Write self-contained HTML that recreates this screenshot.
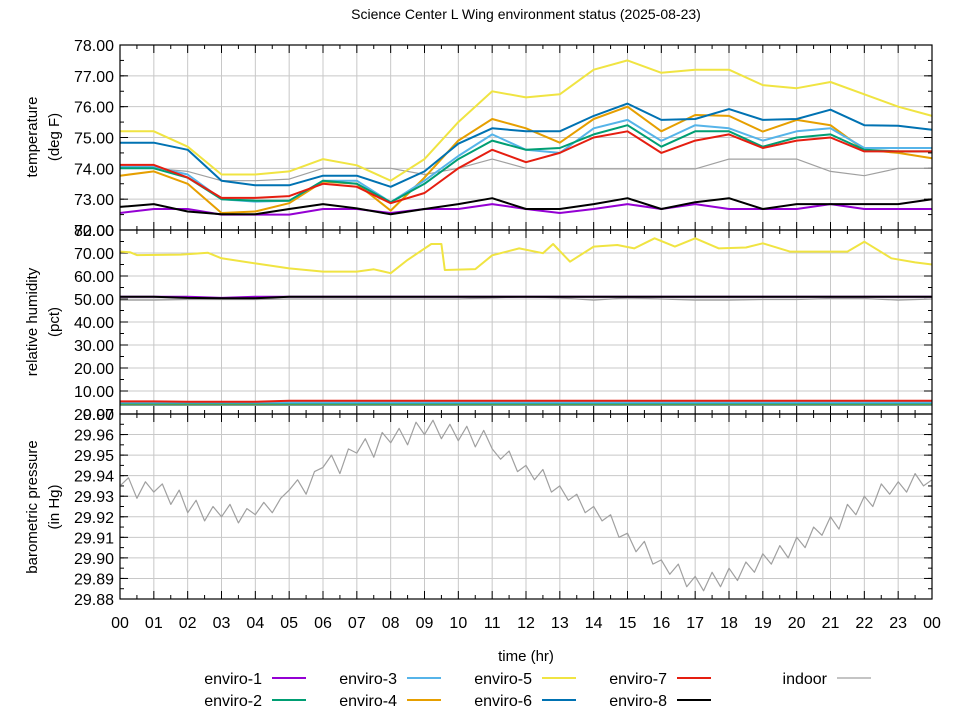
<!DOCTYPE html>
<html><head><meta charset="utf-8"><style>
html,body{margin:0;padding:0;background:#fff;}
svg{display:block;font-family:"Liberation Sans","DejaVu Sans",sans-serif;}
</style></head><body>
<svg id="chart" width="960" height="720" viewBox="0 0 960 720">
<text x="526" y="19" font-size="14" text-anchor="middle" fill="#000">Science Center L Wing environment status (2025-08-23)</text>
<text x="526" y="661" font-size="15" text-anchor="middle">time (hr)</text>
<g font-size="15" text-anchor="middle">
<text transform="translate(37,137) rotate(-90)">temperature</text>
<text transform="translate(59,137) rotate(-90)">(deg F)</text></g>
<g font-size="15" text-anchor="middle">
<text transform="translate(37,322) rotate(-90)">relative humidity</text>
<text transform="translate(59,322) rotate(-90)">(pct)</text></g>
<g font-size="15" text-anchor="middle">
<text transform="translate(37,507) rotate(-90)">barometric pressure</text>
<text transform="translate(59,507) rotate(-90)">(in Hg)</text></g>
<g id="plots"></g>
<g id="legend" font-size="16"></g>
</svg>
<script>
const hours = [0,1,2,3,4,5,6,7,8,9,10,11,12,13,14,15,16,17,18,19,20,21,22,23,24];
const xTickLabels = ["00","01","02","03","04","05","06","07","08","09","10","11","12","13","14","15","16","17","18","19","20","21","22","23","00"];
const seriesNames = ["enviro-1","enviro-2","enviro-3","enviro-4","enviro-5","enviro-6","enviro-7","enviro-8","indoor"];
const seriesColors = ["#9400d3","#009e73","#56b4e9","#e69f00","#f0e442","#0072b2","#e51e10","#000000","#a0a0a0"];
// temperature (deg F), hourly
const temp1 = [72.55,72.68,72.68,72.5,72.5,72.5,72.68,72.68,72.55,72.68,72.68,72.84,72.68,72.55,72.68,72.84,72.68,72.84,72.68,72.68,72.68,72.84,72.68,72.68,72.68];
const temp2 = [74.0,74.0,73.7,73.0,72.95,72.95,73.6,73.5,72.9,73.5,74.3,74.9,74.6,74.66,75.1,75.4,74.7,75.2,75.2,74.7,75.0,75.1,74.6,74.55,74.55];
const temp3 = [74.05,74.05,73.8,73.0,72.92,72.95,73.6,73.6,72.9,73.6,74.4,75.1,74.6,74.5,75.3,75.57,74.89,75.4,75.3,74.9,75.2,75.3,74.66,74.66,74.66];
const temp4 = [73.76,73.9,73.5,72.55,72.6,72.87,73.57,73.5,72.63,73.7,74.9,75.6,75.3,74.83,75.6,76.0,75.2,75.73,75.7,75.19,75.57,75.4,74.6,74.5,74.33];
const temp5 = [75.2,75.2,74.7,73.8,73.8,73.9,74.3,74.1,73.6,74.3,75.5,76.5,76.3,76.4,77.2,77.5,77.1,77.2,77.2,76.7,76.6,76.8,76.4,76.0,75.7];
const temp6 = [74.83,74.83,74.6,73.6,73.45,73.45,73.76,73.76,73.4,73.9,74.8,75.3,75.2,75.2,75.7,76.1,75.57,75.6,75.92,75.57,75.6,75.9,75.4,75.38,75.25];
const temp7 = [74.11,74.11,73.7,73.04,73.04,73.1,73.5,73.4,72.87,73.2,74.0,74.6,74.2,74.5,75.0,75.2,74.5,74.9,75.1,74.66,74.9,75.0,74.55,74.55,74.55];
const temp8 = [72.75,72.84,72.6,72.51,72.51,72.68,72.84,72.7,72.51,72.68,72.84,73.03,72.68,72.68,72.84,73.03,72.68,72.9,73.03,72.68,72.84,72.84,72.84,72.84,73.0];
const tempIndoor = [74.0,74.0,73.9,73.6,73.6,73.65,74.0,74.0,74.0,73.8,74.0,74.3,74.0,73.98,73.98,73.98,73.98,73.98,74.3,74.3,74.3,73.9,73.76,74.0,74.0];
const tempTicks = ["72.00","73.00","74.00","75.00","76.00","77.00","78.00"];
// humidity (pct)
const hum1 = [51,51,51,50.5,51,51,51,51,51,51,51,51,51,51,51,51,51,51,51,51,51,51,51,51,51];
const hum2 = [4.5,4.5,4.5,4.5,4.5,4.5,4.5,4.5,4.5,4.5,4.5,4.5,4.5,4.5,4.5,4.5,4.5,4.5,4.5,4.5,4.5,4.5,4.5,4.5,4.5];
const hum3 = [5,5,5,5,5,5,5,5,5,5,5,5,5,5,5,5,5,5,5,5,5,5,5,5,5];
const hum4 = [4.2,4.2,4.2,4.2,4.2,4.2,4.2,4.2,4.2,4.2,4.2,4.2,4.2,4.2,4.2,4.2,4.2,4.2,4.2,4.2,4.2,4.2,4.2,4.2,4.2];
const hum6 = [4,4,4,4,4,4,4,4,4,4,4,4,4,4,4,4,4,4,4,4,4,4,4,4,4];
const hum7 = [5.5,5.5,5.3,5.3,5.3,5.8,5.8,5.8,5.8,5.8,5.8,5.8,5.8,5.8,5.8,5.8,5.8,5.8,5.8,5.8,5.8,5.8,5.8,5.8,5.8];
const hum8 = [51,51,50.5,50.3,50.3,51,51,51,51,51,51,51,51,51,51,51,51,51,51,51,51,51,51,51,51];
const humIndoor = [49.5,49.5,49.8,49.8,49.8,50,50,50,50,50,50,50.5,51,50.5,49.5,50.5,50,49.5,49.5,49.8,49.8,50.2,50.2,49.5,50];
const hum5Hours = [0,0.3,0.5,1.8,2.6,3,4,5,6,7,7.5,8,8.5,9.2,9.5,9.6,10.5,11,11.8,12.5,12.8,13.3,14,14.7,15.2,15.8,16.4,17,17.7,18.5,19,19.8,21.5,22,22.8,23.5,24];
const hum5 = [70.6,70.3,69.1,69.3,70.1,67.7,65.5,63.3,61.9,61.9,62.9,61.2,67,73.9,73.9,62.6,63,69,72,69.9,73.9,66.2,72.8,73.5,72,76.4,72.8,76.4,72,72.4,74.2,70.6,70.6,74.9,67.7,65.9,65];
const humTicks = ["0.00","10.00","20.00","30.00","40.00","50.00","60.00","70.00","80.00"];
// pressure (in Hg), quarter-hourly
const pressure = [29.935,29.939,29.929,29.937,29.932,29.936,29.926,29.933,29.922,29.928,29.918,29.925,29.920,29.926,29.917,29.924,29.921,29.927,29.922,29.929,29.933,29.938,29.931,29.942,29.944,29.950,29.941,29.953,29.951,29.958,29.949,29.961,29.956,29.963,29.955,29.966,29.960,29.967,29.958,29.965,29.957,29.964,29.954,29.962,29.953,29.948,29.952,29.942,29.945,29.938,29.943,29.932,29.935,29.928,29.931,29.922,29.925,29.918,29.921,29.910,29.912,29.903,29.908,29.897,29.899,29.892,29.897,29.886,29.891,29.884,29.893,29.886,29.895,29.889,29.898,29.893,29.902,29.897,29.906,29.900,29.910,29.905,29.915,29.911,29.920,29.914,29.926,29.921,29.930,29.925,29.936,29.931,29.937,29.932,29.941,29.935,29.938];
const pressTicks = ["29.88","29.89","29.90","29.91","29.92","29.93","29.94","29.95","29.96","29.97"];

const NS="http://www.w3.org/2000/svg";
const plots=document.getElementById('plots');
const X0=120,X1=932;
const xs=h=>X0+(X1-X0)*h/24;
function mk(tag,attrs,parent){const e=document.createElementNS(NS,tag);for(const k in attrs)e.setAttribute(k,attrs[k]);(parent||plots).appendChild(e);return e;}
const panels=[
 {name:'temperature',top:45,bot:230,min:72,max:78,ticks:tempTicks,minor:0.5},
 {name:'humidity',top:230,bot:414,min:0,max:80,ticks:humTicks,minor:5},
 {name:'pressure',top:414,bot:599,min:29.88,max:29.97,ticks:pressTicks,minor:0.005}
];
function ysOf(p){return v=>p.bot-(v-p.min)/(p.max-p.min)*(p.bot-p.top);}
panels.forEach((p,pi)=>{
 const ys=ysOf(p);
 const g=mk('g',{});
 
 
 for(let h=1;h<24;h++){const l=mk('line',{x1:xs(h),x2:xs(h),y1:p.top,y2:p.bot,stroke:'#c8c8c8','stroke-width':1},g);
  }
 p.ticks.forEach(t=>{const v=parseFloat(t);const y=ys(v);
  if(y>p.top+0.5&&y<p.bot-0.5){const l=mk('line',{x1:X0,x2:X1,y1:y,y2:y,stroke:'#c8c8c8','stroke-width':1},g);
   }
  mk('line',{x1:X0,x2:X0+8,y1:y,y2:y,stroke:'#000'},g);mk('line',{x1:X1-8,x2:X1,y1:y,y2:y,stroke:'#000'},g);
  const tx=mk('text',{x:X0-6,y:y+6,'font-size':16,'text-anchor':'end',fill:'#000'},g);tx.textContent=t;
  
 });
 for(let v=p.min+p.minor;v<p.max-1e-9;v+=p.minor){const y=ys(v);
  mk('line',{x1:X0,x2:X0+4,y1:y,y2:y,stroke:'#000'},g);mk('line',{x1:X1-4,x2:X1,y1:y,y2:y,stroke:'#000'},g);}
 for(let h=0;h<=48;h++){const x=xs(h/2);const len=h%2?4:8;
  mk('line',{x1:x,x2:x,y1:p.top,y2:p.top+len,stroke:'#000'},g);mk('line',{x1:x,x2:x,y1:p.bot-len,y2:p.bot,stroke:'#000'},g);}
});
function line(xsArr,vals,p,color,w,name){
 const ys=ysOf(p);
 const pts=vals.map((v,i)=>xs(xsArr[i]).toFixed(1)+','+ys(v).toFixed(1)).join(' ');
 const e=mk('polyline',{points:pts,fill:'none',stroke:color,'stroke-width':w,'stroke-linejoin':'round'});
 
 
}
const tP=panels[0],hP=panels[1],pP=panels[2];
line(hours,tempIndoor,tP,'#a0a0a0',1.2,'temperature-line-indoor');
line(hours,temp5,tP,'#f0e442',2,'temperature-line-enviro-5');
line(hours,temp4,tP,'#e69f00',2,'temperature-line-enviro-4');
line(hours,temp6,tP,'#0072b2',2,'temperature-line-enviro-6');
line(hours,temp3,tP,'#56b4e9',2,'temperature-line-enviro-3');
line(hours,temp2,tP,'#009e73',2,'temperature-line-enviro-2');
line(hours,temp7,tP,'#e51e10',2,'temperature-line-enviro-7');
line(hours,temp1,tP,'#9400d3',2,'temperature-line-enviro-1');
line(hours,temp8,tP,'#000000',2,'temperature-line-enviro-8');
line(hum5Hours,hum5,hP,'#f0e442',2,'humidity-line-enviro-5');
line(hours,humIndoor,hP,'#a0a0a0',1.2,'humidity-line-indoor');
line(hours,hum1,hP,'#9400d3',2,'humidity-line-enviro-1');
line(hours,hum8,hP,'#000000',2,'humidity-line-enviro-8');
line(hours,hum6,hP,'#0072b2',2,'humidity-line-enviro-6');
line(hours,hum4,hP,'#e69f00',2,'humidity-line-enviro-4');
line(hours,hum2,hP,'#009e73',2,'humidity-line-enviro-2');
line(hours,hum3,hP,'#56b4e9',2,'humidity-line-enviro-3');
line(hours,hum7,hP,'#e51e10',2,'humidity-line-enviro-7');
const pHours=pressure.map((v,i)=>i/4);
line(pHours,pressure,pP,'#a0a0a0',1.2,'pressure-line-indoor');
panels.forEach(p=>{const r=mk('rect',{x:X0,y:p.top,width:X1-X0,height:p.bot-p.top,fill:'none',stroke:'#000','stroke-width':1.2});
 });
xTickLabels.forEach((t,i)=>{const tx=mk('text',{x:xs(hours[i]),y:628,'font-size':16,'text-anchor':'middle'});tx.textContent=t;
 });
const leg=document.getElementById('legend');
const colX=[262,397,532,667,827];
seriesNames.forEach((n,i)=>{
 const col=Math.floor(i/2),row=i%2;
 const rx=colX[col],y=row?700:678;
 const t=mk('text',{x:rx,y:y+6,'text-anchor':'end'},leg);t.textContent=n;
 
 const l=mk('line',{x1:rx+10,x2:rx+44,y1:y,y2:y,stroke:seriesColors[i],'stroke-width':n==='indoor'?1.2:2},leg);
 
});
</script>
</body></html>
